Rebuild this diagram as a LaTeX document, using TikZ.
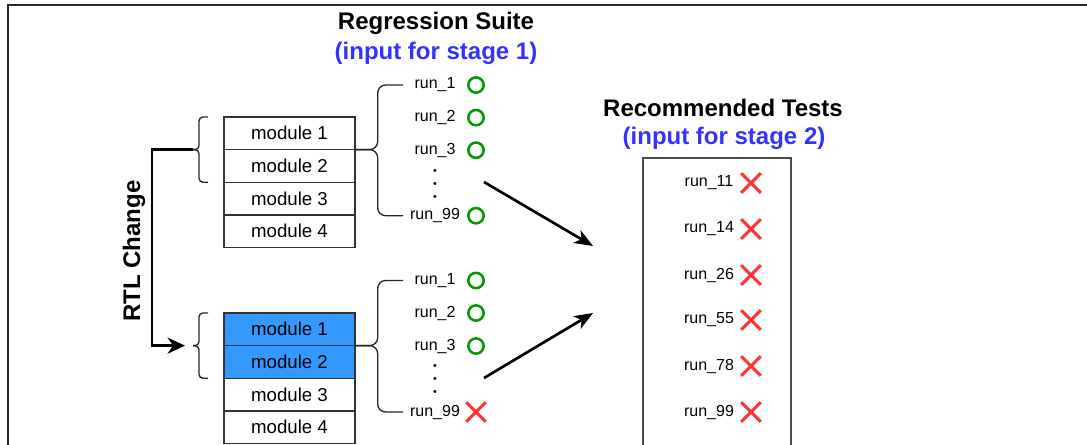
\documentclass[tikz,border=0pt]{standalone}
\usepackage{fontspec}
\setmainfont{Liberation Sans}
\usepackage{tikz}
\usetikzlibrary{arrows.meta}
\usetikzlibrary{shapes.misc}
\usetikzlibrary{positioning}

\definecolor{passgreen}{HTML}{009900}
\definecolor{failred}{HTML}{FF3333}
\definecolor{stageblue}{HTML}{3333FF}
\definecolor{modblue}{HTML}{3399FF}

\tikzset{
  modbox/.style={draw=black!80, line width=1.2pt, outer sep=0pt, inner sep=0pt,
    minimum width=98.25pt, minimum height=24.5pt, font=\fontsize{14}{16}\selectfont},
  runlbl/.style={inner sep=0pt, font=\fontsize{12}{14}\selectfont},
  pass/.style={circle, draw=passgreen, line width=1.9pt, minimum size=11.5pt, inner sep=0pt},
  fail/.style={cross out, draw=failred, line width=2.2pt, minimum size=12.5pt, inner sep=0pt},
  runvdots/.style={inner sep=0pt, align=center, font=\fontsize{8}{9.4}\selectfont},
  headtxt/.style={inner sep=0pt, font=\bfseries\fontsize{18}{20}\selectfont},
  curlybr/.style={line width=1pt, black!85, rounded corners=6pt},
  smallbr/.style={line width=1pt, black!85, rounded corners=3pt},
}

\begin{document}
\begin{tikzpicture}[x=0.75pt, y=-0.75pt]
\useasboundingbox (0,0) rectangle (1087,444);
\clip (0,0) rectangle (1087,444);
% frame
\draw[line width=1.5pt, black!85] (8,470) |- (1110,5);

% titles
\node[headtxt] (suite) at (436,23) {Regression Suite};
\node[headtxt, text=stageblue] (suitein) at (436,53) {(input for stage 1)};
\node[headtxt] (rectests) at (723,108) {Recommended Tests};
\node[headtxt, text=stageblue] (recin) at (724,138) {(input for stage 2)};

% modules before the change
\node[modbox] (a1) at (289.5,133.3) {module 1};
\node[modbox, below=0pt of a1] (a2) {module 2};
\node[modbox, below=0pt of a2] (a3) {module 3};
\node[modbox, below=0pt of a3] (a4) {module 4};

% modules after the change
\node[modbox, fill=modblue] (b1) at (289.5,329.3) {module 1};
\node[modbox, fill=modblue, below=0pt of b1] (b2) {module 2};
\node[modbox, below=0pt of b2] (b3) {module 3};
\node[modbox, below=0pt of b3] (b4) {module 4};

% runs, stage 1 (before)
\node[runlbl] (u1) at (435,85) {run\_1};
\node[runlbl] (u2) at (435,117.6) {run\_2};
\node[runlbl] (u3) at (435,150.2) {run\_3};
\node[runvdots] (udots) at (435,185) {•\\•\\•};
\node[runlbl] (u99) at (435,215.7) {run\_99};
\node[pass] (uc1) at (476,85) {};
\node[pass] (uc2) at (476,117.6) {};
\node[pass] (uc3) at (476,150.2) {};
\node[pass] (uc99) at (476,215.7) {};

% runs, stage 1 (after)
\node[runlbl] (v1) at (435,280.5) {run\_1};
\node[runlbl] (v2) at (435,313) {run\_2};
\node[runlbl] (v3) at (435,346) {run\_3};
\node[runvdots] (vdots) at (435,380) {•\\•\\•};
\node[runlbl] (v99) at (435,412) {run\_99};
\node[pass] (vc1) at (476,280.5) {};
\node[pass] (vc2) at (476,313) {};
\node[pass] (vc3) at (476,346) {};
\node[fail] (vc99) at (476,412) {};

% recommended tests
\node[draw=black!70, line width=1.5pt, minimum width=111pt, minimum height=226.5pt] (rec) at (717,309) {};
\node[runlbl] (r11) at (709,183) {run\_11};
\node[runlbl] (r14) at (709,229) {run\_14};
\node[runlbl] (r26) at (709,275) {run\_26};
\node[runlbl] (r55) at (709,320) {run\_55};
\node[runlbl] (r78) at (709,366) {run\_78};
\node[runlbl] (r99) at (709,412) {run\_99};
\node[fail] (rx11) at (751,183) {};
\node[fail] (rx14) at (751,229) {};
\node[fail] (rx26) at (751,275) {};
\node[fail] (rx55) at (751,320) {};
\node[fail] (rx78) at (751,366) {};
\node[fail] (rx99) at (751,412) {};

% braces
\coordinate (brx) at (403,0);
\draw[curlybr] (u1 -| brx) -| ([xshift=17pt]a1.south east) -- (a1.south east);
\draw[curlybr] (a1.south east) -- ([xshift=17pt]a1.south east) |- (u99 -| brx);
\draw[curlybr] (v1 -| brx) -| ([xshift=17pt]b1.south east) -- (b1.south east);
\draw[curlybr] (b1.south east) -- ([xshift=17pt]b1.south east) |- (v99 -| brx);
\coordinate (ltA) at ([xshift=-23.25pt]a1.south west);
\coordinate (ltB) at ([xshift=-23.25pt]b1.south west);
\draw[smallbr] ([xshift=-12pt]a1.north west) -| ([xshift=-18.75pt]a1.south west) -- (ltA);
\draw[smallbr] (ltA) -- ([xshift=-18.75pt]a1.south west) |- ([xshift=-12pt]a2.south west);
\draw[smallbr] ([xshift=-12pt]b1.north west) -| ([xshift=-18.75pt]b1.south west) -- (ltB);
\draw[smallbr] (ltB) -- ([xshift=-18.75pt]b1.south west) |- ([xshift=-12pt]b2.south west);

% RTL change
\draw[-{Stealth[length=13pt, width=12pt, inset=4pt]}, line width=2pt, shorten >=6pt]
  (ltA) -- ++(-30.75pt,0) |- (ltB);
\node[headtxt, rotate=90] (rtl) at (134,251) {RTL Change};

% towards stage 2
\coordinate (upA) at (484,182);
\coordinate (upB) at (593,246);
\coordinate (loA) at (484,378);
\coordinate (loB) at (593,313);
\draw[-{Stealth[length=14pt, width=11pt, inset=4pt]}, line width=2pt] (upA) -- (upB);
\draw[-{Stealth[length=14pt, width=11pt, inset=4pt]}, line width=2pt] (loA) -- (loB);
\end{tikzpicture}
\end{document}
